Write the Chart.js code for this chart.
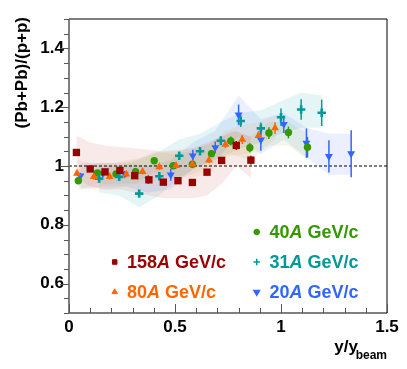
<!DOCTYPE html>
<html>
<head>
<meta charset="utf-8">
<script src="https://cdn.jsdelivr.net/npm/chart.js@4"></script>
<style>
  html, body { margin: 0; padding: 0; background: #fff; }
  #wrap { width: 407px; height: 369px; }
</style>
</head>
<body>
<div id="wrap"><canvas id="c" width="407" height="369"></canvas></div>
<script>
const xTicks = [0, 0.5, 1, 1.5];
const yTicks = [0.6, 0.8, 1, 1.2, 1.4];

// 158A GeV/c
const x158 = [0.035, 0.10, 0.17, 0.24, 0.31, 0.377, 0.445, 0.514, 0.582, 0.651, 0.72, 0.789, 0.858];
const y158 = [1.046, 0.99, 0.98, 0.985, 0.967, 0.953, 0.945, 0.95, 0.944, 0.979, 1.019, 1.07, 1.02];
const e158 = [0.01, 0.01, 0.01, 0.01, 0.01, 0.01, 0.01, 0.01, 0.01, 0.01, 0.01, 0.015, 0.015];
const hi158 = [1.105, 1.08, 1.07, 1.065, 1.06, 1.055, 1.05, 1.055, 1.06, 1.08, 1.10, 1.12, 1.10];
const lo158 = [0.96, 0.93, 0.92, 0.92, 0.91, 0.90, 0.89, 0.89, 0.89, 0.90, 0.94, 1.0, 0.96];

// 80A GeV/c
const x80 = [0.038, 0.117, 0.192, 0.27, 0.347, 0.426, 0.505, 0.582, 0.66, 0.738, 0.817, 0.894, 0.972];
const y80 = [0.975, 0.964, 0.964, 0.972, 0.981, 0.997, 1.001, 1.006, 1.02, 1.073, 1.09, 1.103, 1.129];
const e80 = [0.01, 0.01, 0.01, 0.01, 0.01, 0.01, 0.01, 0.01, 0.01, 0.012, 0.015, 0.015, 0.02];
const hi80 = [1.02, 1.01, 1.01, 1.02, 1.03, 1.045, 1.05, 1.06, 1.075, 1.12, 1.14, 1.15, 1.17];
const lo80 = [0.93, 0.92, 0.92, 0.93, 0.94, 0.955, 0.96, 0.96, 0.975, 1.03, 1.04, 1.05, 1.09];

// 40A GeV/c
const x40 = [0.044, 0.134, 0.222, 0.314, 0.402, 0.492, 0.582, 0.672, 0.763, 0.853, 0.943, 1.035, 1.125];
const y40 = [0.95, 0.976, 0.973, 0.981, 1.018, 1.001, 1.006, 1.042, 1.085, 1.062, 1.112, 1.114, 1.064];
const e40 = [0.01, 0.01, 0.01, 0.01, 0.01, 0.01, 0.01, 0.012, 0.015, 0.015, 0.02, 0.02, 0.035];
const hi40 = [0.99, 1.01, 1.01, 1.02, 1.05, 1.04, 1.05, 1.08, 1.12, 1.10, 1.15, 1.15, 1.11];
const lo40 = [0.92, 0.94, 0.94, 0.94, 0.98, 0.96, 0.97, 1.0, 1.04, 1.02, 1.07, 1.07, 1.02];

// 31A GeV/c
const x31 = [0.142, 0.237, 0.331, 0.426, 0.52, 0.618, 0.716, 0.81, 0.905, 1.0, 1.095, 1.192];
const y31 = [0.957, 0.963, 0.906, 0.965, 1.035, 1.05, 1.086, 1.153, 1.128, 1.166, 1.192, 1.181];
const e31 = [0.01, 0.01, 0.01, 0.01, 0.012, 0.012, 0.015, 0.02, 0.02, 0.03, 0.035, 0.045];
const hi31 = [1.0, 1.0, 1.02, 1.05, 1.09, 1.11, 1.15, 1.18, 1.19, 1.22, 1.25, 1.24];
const lo31 = [0.91, 0.90, 0.86, 0.90, 0.96, 1.0, 1.03, 1.06, 1.08, 1.11, 1.13, 1.13];

// 20A GeV/c
const x20 = [0.054, 0.16, 0.263, 0.374, 0.48, 0.584, 0.69, 0.80, 0.905, 1.013, 1.12, 1.226, 1.331];
const y20 = [0.967, 0.975, 0.973, 0.954, 0.97, 1.035, 1.063, 1.174, 1.089, 1.142, 1.078, 1.033, 1.042];
const e20 = [0.01, 0.01, 0.01, 0.015, 0.02, 0.02, 0.02, 0.035, 0.037, 0.03, 0.05, 0.055, 0.08];
const hi20 = [1.01, 1.01, 1.01, 1.0, 1.02, 1.08, 1.12, 1.24, 1.16, 1.18, 1.13, 1.11, 1.11];
const lo20 = [0.92, 0.93, 0.93, 0.91, 0.92, 0.99, 1.02, 1.10, 1.04, 1.09, 1.03, 0.97, 0.97];

const refX = [0, 1.5];
const refY = [1, 1];

const pts = (xs, ys) => xs.map((x, i) => ({ x: x, y: ys[i] }));

const series = [
  { label: '158', x: x158, y: y158, e: e158, hi: hi158, lo: lo158, color: '#990000', band: 'rgba(210,90,90,0.13)', style: 'rect', r: 5.2, rot: 0, order: 1 },
  { label: '80', x: x80, y: y80, e: e80, hi: hi80, lo: lo80, color: '#ff6600', band: 'rgba(255,150,80,0.11)', style: 'triangle', r: 4.6, rot: 0, order: 2 },
  { label: '31', x: x31, y: y31, e: e31, hi: hi31, lo: lo31, color: '#009999', band: 'rgba(0,160,160,0.10)', style: 'cross', r: 4.2, rot: 0, order: 3 },
  { label: '40', x: x40, y: y40, e: e40, hi: hi40, lo: lo40, color: '#339900', band: 'rgba(120,190,30,0.10)', style: 'circle', r: 3.7, rot: 0, order: 4 },
  { label: '20', x: x20, y: y20, e: e20, hi: hi20, lo: lo20, color: '#3366ff', band: 'rgba(60,100,255,0.10)', style: 'triangle', r: 4.6, rot: 180, order: 5 }
];

const datasets = [];
series.forEach(s => {
  datasets.push({ id: 'lo' + s.label, data: pts(s.x, s.lo), showLine: true, pointRadius: 0, borderWidth: 0, borderColor: 'transparent', fill: false, order: 20 });
  datasets.push({ id: 'hi' + s.label, data: pts(s.x, s.hi), showLine: true, pointRadius: 0, borderWidth: 0, borderColor: 'transparent', backgroundColor: s.band, fill: '-1', order: 20 });
});
datasets.push({ id: 'ref', data: pts(refX, refY), showLine: true, pointRadius: 0, borderWidth: 1, borderColor: '#000', borderDash: [3, 2], order: 10 });
series.forEach(s => {
  datasets.push({
    id: 'pts' + s.label, data: pts(s.x, s.y), pointStyle: s.style, pointRadius: s.r, pointRotation: s.rot,
    backgroundColor: s.color, borderColor: s.color, borderWidth: s.style === 'cross' ? 2.6 : 0, order: s.order
  });
});

const FONT = '"Liberation Sans", Arial, sans-serif';

// stat error bars, drawn right after the dashed line (under the markers)
const errorBars = {
  id: 'errorBars',
  afterDatasetDraw(chart, args) {
    if (chart.data.datasets[args.index].id !== 'ref') return;
    const ctx = chart.ctx, xs = chart.scales.x, ys = chart.scales.y;
    ctx.save();
    series.forEach(s => {
      ctx.strokeStyle = s.color;
      ctx.lineWidth = 1.5;
      s.x.forEach((x, i) => {
        const px = xs.getPixelForValue(x);
        ctx.beginPath();
        ctx.moveTo(px, ys.getPixelForValue(s.y[i] - s.e[i]));
        ctx.lineTo(px, ys.getPixelForValue(s.y[i] + s.e[i]));
        ctx.stroke();
      });
    });
    ctx.restore();
  }
};

const frame = {
  id: 'frame',
  afterDraw(chart) {
    const ctx = chart.ctx, a = chart.chartArea, xs = chart.scales.x, ys = chart.scales.y;
    ctx.save();
    ctx.strokeStyle = '#555';
    ctx.lineWidth = 1.5;
    ctx.beginPath();
    ctx.moveTo(a.left, a.top); ctx.lineTo(a.left, a.bottom); ctx.lineTo(a.right, a.bottom);
    ctx.moveTo(a.left, a.top); ctx.lineTo(a.right, a.top);
    ctx.stroke();
    ctx.strokeStyle = '#000';
    ctx.lineWidth = 1;
    ctx.beginPath();
    ctx.moveTo(a.right, a.top); ctx.lineTo(a.right, a.bottom);
    ctx.stroke();

    // y ticks (outside, left)
    ctx.strokeStyle = '#555';
    ctx.lineWidth = 1;
    for (let k = 0; k <= 20; k++) {
      const v = 0.5 + k * 0.05;
      const py = Math.round(ys.getPixelForValue(v)) + 0.5;
      const major = Math.abs((v * 10) % 2) < 1e-6 || Math.abs((v * 10) % 2 - 2) < 1e-6;
      ctx.beginPath();
      ctx.moveTo(a.left - (major ? 9 : 5), py); ctx.lineTo(a.left, py);
      ctx.stroke();
    }
    // x ticks (inside, up)
    for (let k = 0; k <= 15; k++) {
      const v = k * 0.1;
      const px = Math.round(xs.getPixelForValue(v)) + 0.5;
      const major = k % 5 === 0;
      ctx.beginPath();
      ctx.moveTo(px, a.bottom); ctx.lineTo(px, a.bottom - (major ? 9 : 5));
      ctx.stroke();
    }

    // axis titles
    ctx.fillStyle = '#000';
    ctx.font = 'bold 17px ' + FONT;
    ctx.textBaseline = 'alphabetic';
    ctx.textAlign = 'right';
    ctx.fillText('y/y', a.right - 29, 352);
    ctx.font = 'bold 12px ' + FONT;
    ctx.fillText('beam', a.right, 359);
    ctx.save();
    ctx.translate(27, a.top - 2);
    ctx.rotate(-Math.PI / 2);
    ctx.font = 'bold 17px ' + FONT;
    ctx.textAlign = 'right';
    ctx.fillText('(Pb+Pb)/(p+p)', 0, 0);
    ctx.restore();

    // legend
    const legend = [
      { s: series[0], mx: 114.7, tx: 127, y: 262 },
      { s: series[1], mx: 114.7, tx: 127, y: 292 },
      { s: series[3], mx: 256.7, tx: 269.5, y: 232 },
      { s: series[2], mx: 256.7, tx: 269.5, y: 262 },
      { s: series[4], mx: 256.7, tx: 269.5, y: 292 }
    ];
    legend.forEach(l => {
      const s = l.s;
      ctx.fillStyle = s.color;
      ctx.strokeStyle = s.color;
      ctx.lineWidth = s.style === 'cross' ? 1.5 : 0;
      Chart.helpers.drawPoint(ctx, { pointStyle: s.style, radius: s.style === 'circle' ? 2.8 : 3.2, rotation: s.rot, borderWidth: ctx.lineWidth }, l.mx, l.y);
      ctx.textAlign = 'left';
      ctx.textBaseline = 'middle';
      let x = l.tx;
      ctx.font = 'bold 18px ' + FONT;
      ctx.fillText(s.label, x, l.y + 1);
      x += ctx.measureText(s.label).width;
      ctx.font = 'italic bold 18px ' + FONT;
      ctx.fillText('A', x, l.y + 1);
      x += ctx.measureText('A').width;
      ctx.font = 'bold 18px ' + FONT;
      ctx.fillText(' GeV/c', x, l.y + 1);
    });
    ctx.restore();
  }
};

new Chart(document.getElementById('c'), {
  type: 'scatter',
  data: { datasets: datasets },
  options: {
    responsive: false,
    animation: false,
    events: [],
    layout: { padding: { left: 0, right: 20, top: 19, bottom: 0 } },
    plugins: { legend: { display: false }, tooltip: { enabled: false } },
    elements: { line: { tension: 0 } },
    scales: {
      x: {
        type: 'linear', min: 0, max: 1.5,
        afterFit: s => { s.height = 56; },
        afterBuildTicks: s => { s.ticks = xTicks.map(v => ({ value: v })); },
        grid: { display: false, drawTicks: false },
        border: { display: false },
        ticks: { color: '#000', padding: 4, font: { family: FONT, size: 17, weight: 'bold' }, callback: v => String(v), maxRotation: 0 }
      },
      y: {
        type: 'linear', min: 0.5, max: 1.5,
        afterFit: s => { s.width = 69; },
        afterBuildTicks: s => { s.ticks = yTicks.map(v => ({ value: v })); },
        grid: { display: false, drawTicks: false },
        border: { display: false },
        ticks: { color: '#000', padding: 5, font: { family: FONT, size: 17, weight: 'bold' }, callback: v => String(v) }
      }
    }
  },
  plugins: [errorBars, frame]
});
</script>
</body>
</html>
